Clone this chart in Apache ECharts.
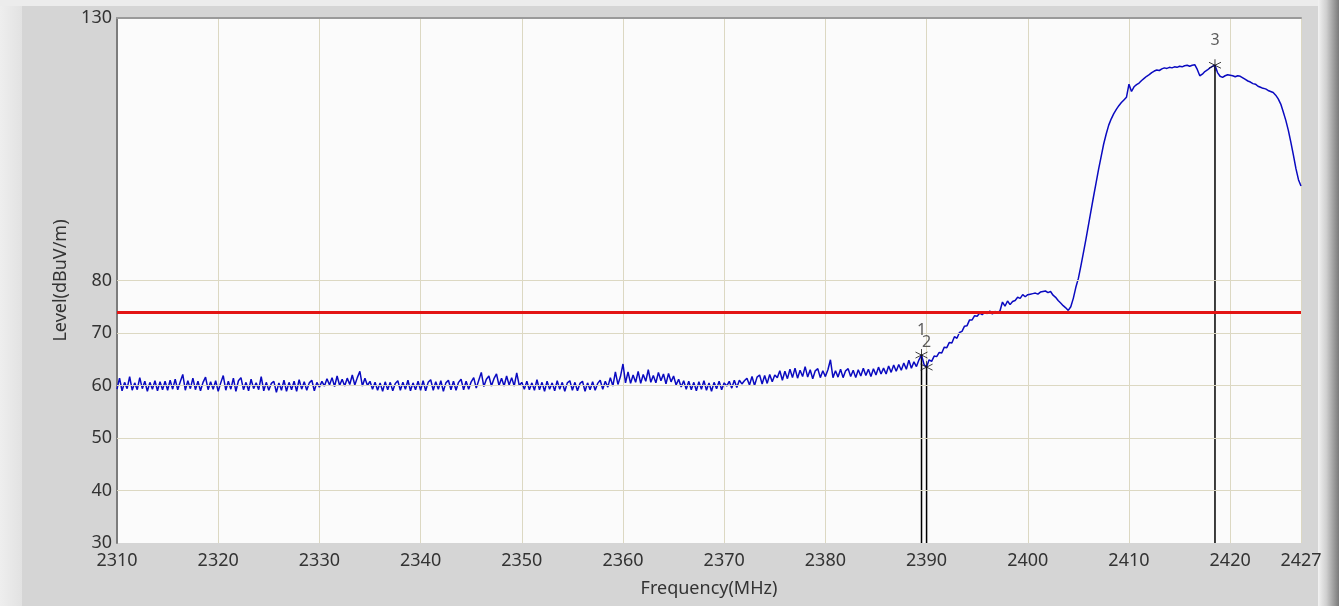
<!DOCTYPE html>
<html>
<head>
<meta charset="utf-8">
<script src="https://cdn.jsdelivr.net/npm/echarts@6/dist/echarts.min.js"></script>
<style>
html,body{margin:0;padding:0;background:#d5d5d5;}
#chart{width:1339px;height:606px;}
</style>
</head>
<body>
<div id="chart"></div>
<script>
// Sweep definition (frequency points of the trace)
const FREQ_START = 2310;
const FREQ_STEP = 0.25;
const X_MIN = 2310, X_MAX = 2427, X_INTERVAL = 10;
const Y_MIN = 30, Y_MAX = 130, Y_INTERVAL = 10;
const Y_LABELS = [30, 40, 50, 60, 70, 80, 130];
const Y_GRID = [40, 50, 60, 70, 80];
const LIMIT = 74;

// Measured level (dBuV/m), one value per sweep point
const LEVELS = [
59.3,61.4,59.0,60.6,59.4,61.7,59.1,60.5,59.2,61.5,59.4,60.8,58.9,60.6,59.3,60.9,59.0,60.7,59.2,60.8,
59.1,61.0,59.3,61.2,59.2,60.7,62.1,59.1,60.9,59.4,61.4,59.2,60.8,59.0,60.6,61.6,59.2,60.7,59.3,60.9,
58.9,60.5,61.9,59.1,60.8,59.3,61.4,58.9,60.9,61.5,59.2,60.6,59.0,61.2,59.4,60.5,59.2,61.7,59.0,60.6,
59.1,60.4,60.8,58.7,60.5,59.1,61.0,58.9,60.6,59.2,60.8,58.9,61.1,59.3,60.7,59.1,60.5,61.0,59.0,60.6,
59.7,60.8,59.9,61.3,60.1,61.5,59.8,61.8,60.0,61.2,59.9,61.4,60.2,62.0,60.1,61.5,62.7,59.9,61.4,60.0,
60.8,59.3,60.6,59.1,60.5,58.9,60.7,59.2,60.6,59.0,60.4,60.9,59.1,60.6,59.3,61.0,59.0,60.5,59.2,60.8,
59.1,60.9,59.0,60.6,61.1,59.1,60.7,59.3,60.9,58.9,60.5,61.0,59.2,60.8,59.1,60.6,61.2,59.2,60.8,59.3,
60.7,61.5,59.5,61.0,62.5,59.8,61.2,61.8,59.9,61.3,62.2,60.0,61.4,59.9,61.8,60.1,61.5,59.9,62.4,60.0,
60.6,59.3,60.8,59.2,60.5,59.1,61.1,59.2,60.6,58.9,60.8,59.3,60.5,59.0,60.9,59.3,60.6,58.9,60.5,60.9,
59.1,60.6,59.0,60.4,60.8,58.9,60.5,59.2,60.7,59.1,60.4,61.0,59.3,60.8,59.7,61.5,59.9,62.6,60.2,61.7,
64.1,60.5,62.6,60.4,62.0,60.6,62.7,60.4,62.1,60.8,63.0,60.6,61.9,60.5,62.5,60.9,62.2,60.3,62.3,60.7,
61.8,60.1,61.2,59.7,60.9,59.3,60.8,59.2,60.6,59.0,60.7,59.3,60.9,59.1,60.5,58.9,60.6,59.4,60.8,59.2,
60.5,59.9,60.8,59.5,61.0,59.6,61.0,60.3,60.9,61.4,60.1,61.7,60.0,61.6,62.0,60.3,61.9,60.4,62.1,60.7,
62.0,61.5,62.8,61.0,62.7,61.3,63.1,61.5,63.3,61.4,62.9,61.7,63.6,61.6,63.0,61.3,62.8,63.2,61.5,62.8,
61.7,63.0,64.9,61.5,62.8,61.6,63.1,61.5,62.8,63.2,61.7,62.9,61.5,63.0,61.8,63.3,61.9,63.1,61.7,63.2,
62.0,63.5,62.2,63.3,62.2,63.7,62.5,63.9,62.7,64.0,62.9,64.3,63.1,64.8,63.3,64.5,63.6,64.9,65.8,64.0,
63.5,64.9,64.6,65.6,65.5,66.3,66.2,67.3,67.2,68.2,68.1,69.3,69.0,70.1,70.3,71.3,71.4,72.5,72.5,73.3,
73.2,73.8,73.5,74.0,73.7,74.2,73.6,74.1,73.8,74.2,75.9,75.1,76.1,75.4,76.0,76.2,76.8,76.6,77.3,76.9,
77.3,77.4,77.5,77.6,77.4,77.8,77.9,78.0,77.7,77.9,77.2,76.8,76.2,75.7,75.2,74.8,74.3,75.0,76.6,78.7,
80.4,82.8,85.3,87.9,90.6,93.3,96.0,98.6,101.2,103.6,106.0,107.9,109.6,110.8,111.8,112.6,113.3,113.9,114.4,114.9,
117.4,116.0,116.9,117.3,117.6,118.1,118.5,118.9,119.2,119.6,119.9,120.1,120.0,120.3,120.5,120.4,120.6,120.5,120.7,120.6,
120.8,120.7,120.9,121.0,120.8,121.0,121.1,120.2,119.0,119.3,119.8,120.1,120.5,120.8,121.0,119.6,118.9,118.7,119.0,119.2,
119.1,119.0,118.8,119.0,118.9,118.6,118.3,118.0,117.8,117.5,117.4,117.0,116.8,116.6,116.5,116.2,116.0,115.8,115.3,114.6,
113.6,112.1,110.5,108.6,106.3,103.9,101.3,99.2,98.0
];

// Markers
const MARKER_FREQ = [2389.5, 2390.0, 2418.5];
const MARKER_LEVEL = [65.8, 63.5, 121.0];
const MARKER_NAMES = ['1', '2', '3'];

const trace = LEVELS.map((v, i) => [FREQ_START + i * FREQ_STEP, v]);
const FONT = 'Noto Sans';
const STAR = 'path://M0,-6L0,6M-5.2,-3L5.2,3M-5.2,3L5.2,-3';

const series = [];
// horizontal grid lines (only 40..80)
series.push({
  type: 'line', data: [], z: 1, silent: true,
  markLine: {
    silent: true, symbol: 'none', animation: false,
    label: {show: false},
    lineStyle: {color: '#dcd8c2', width: 1, type: 'solid'},
    data: Y_GRID.map(v => ({yAxis: v}))
  }
});
// marker drop lines
MARKER_FREQ.forEach((f, k) => {
  series.push({
    type: 'line', z: 3, silent: true, symbol: 'none',
    lineStyle: {color: '#000000', width: 1.5},
    data: [[f, MARKER_LEVEL[k]], [f, Y_MIN]]
  });
});
// trace
series.push({
  type: 'line', z: 4, symbol: 'none', silent: true,
  lineStyle: {color: '#0a0ac0', width: 1.5},
  data: trace,
  markLine: {
    silent: true, symbol: 'none', animation: false,
    label: {show: false},
    lineStyle: {color: '#e31414', width: 3, type: 'solid'},
    data: [{yAxis: LIMIT}]
  }
});
// marker symbols and labels
series.push({
  type: 'scatter', z: 6, silent: true,
  symbol: STAR, symbolSize: 12,
  itemStyle: {color: 'rgba(0,0,0,0)', borderColor: '#111', borderWidth: 1},
  label: {
    show: true, position: 'top', distance: 10,
    color: '#333', fontFamily: FONT, fontSize: 16,
    formatter: p => MARKER_NAMES[p.dataIndex]
  },
  data: MARKER_FREQ.map((f, k) => [f, MARKER_LEVEL[k]])
});

const chart = echarts.init(document.getElementById('chart'));
chart.setOption({
  animation: false,
  backgroundColor: '#d5d5d5',
  graphic: [
    {type: 'rect', z: -10, shape: {x: 0, y: 0, width: 22, height: 606},
     style: {fill: new echarts.graphic.LinearGradient(0, 0, 1, 0, [{offset: 0, color: '#eeeeee'}, {offset: 1, color: '#e2e2e2'}])}},
    {type: 'rect', z: -10, shape: {x: 0, y: 0, width: 1339, height: 6},
     style: {fill: '#ececec'}},
    {type: 'rect', z: -10, shape: {x: 1318, y: 0, width: 21, height: 606},
     style: {fill: new echarts.graphic.LinearGradient(0, 0, 1, 0, [{offset: 0, color: '#f2f2f2'}, {offset: 0.4, color: '#cfcfcf'}, {offset: 1, color: '#7a7a7a'}])}}
  ],
  grid: {left: 117, right: 38, top: 18, bottom: 63, show: true, backgroundColor: '#fbfbfb', borderWidth: 0},
  xAxis: [{
    type: 'value', min: X_MIN, max: X_MAX, interval: X_INTERVAL,
    name: 'Frequency(MHz)', nameLocation: 'middle', nameGap: 37,
    nameTextStyle: {color: '#333', fontFamily: FONT, fontSize: 18},
    axisLine: {show: false}, axisTick: {show: false},
    axisLabel: {color: '#333', fontFamily: FONT, fontSize: 18, margin: 9,
      formatter: v => String(v)},
    splitLine: {show: true, lineStyle: {color: '#dcd8c2', width: 1}}
  }, {
    type: 'value', position: 'top', min: X_MIN, max: X_MAX,
    axisLine: {show: true, lineStyle: {color: '#9a9a9a', width: 2}},
    axisTick: {show: false}, axisLabel: {show: false}, splitLine: {show: false}
  }],
  yAxis: {
    type: 'value', min: Y_MIN, max: Y_MAX, interval: Y_INTERVAL,
    name: 'Level(dBuV/m)', nameLocation: 'middle', nameRotate: 90, nameGap: 45,
    nameTextStyle: {color: '#333', fontFamily: FONT, fontSize: 18},
    axisLine: {show: true, lineStyle: {color: '#7c7c7c', width: 2}},
    axisTick: {show: false},
    axisLabel: {
      color: '#333', fontFamily: FONT, fontSize: 18, margin: 5,
      formatter: v => (Y_LABELS.indexOf(v) >= 0 ? String(v) : '')
    },
    splitLine: {show: false}
  },
  series: series
});
</script>
</body>
</html>
